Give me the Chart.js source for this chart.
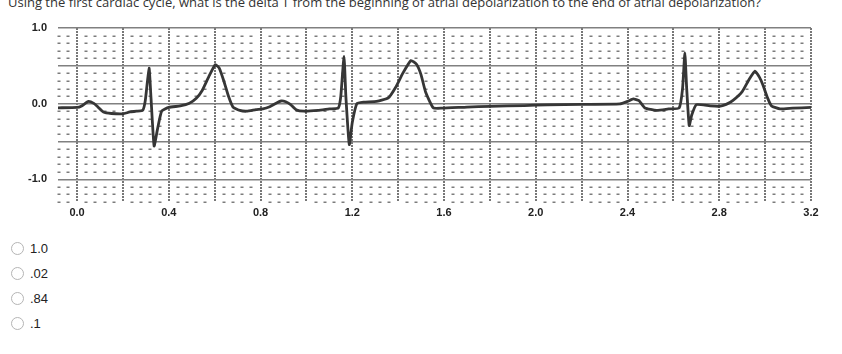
<!DOCTYPE html>
<html>
<head>
<meta charset="utf-8">
<script src="https://cdn.jsdelivr.net/npm/chart.js@4.4.1/dist/chart.umd.min.js"></script>
<style>
  body { margin: 0; width: 842px; height: 354px; background: #fff; overflow: hidden; position: relative; font-family: "Open Sans", Arial, sans-serif; }
  #question { position: absolute; left: 8px; top: -7px; font-size: 13px; color: #333; white-space: nowrap; }
  #chartBox { position: absolute; left: 0; top: 0; width: 842px; height: 230px; }
  .opt { position: absolute; left: 11px; height: 16px; display: flex; align-items: center; font-family: Arial, "Liberation Sans", sans-serif; font-size: 13px; color: #222; }
  .opt span.r { width: 13px; height: 13px; border: 1px solid #b5b5b5; border-radius: 50%; margin-right: 6px; box-sizing: border-box; background: #fff; }
</style>
</head>
<body>
<div id="question">Using the first cardiac cycle, what is the delta T from the beginning of atrial depolarization to the end of atrial depolarization?</div>
<div id="chartBox"><canvas id="ecgChart"></canvas></div>
<div id="options"></div>
<script>
// ECG trace (time in s, amplitude in mV)
const times = [-0.083, 0.0, 0.02, 0.05, 0.075, 0.09, 0.115, 0.15, 0.2, 0.23, 0.26, 0.287, 0.298,
  0.314, 0.322, 0.336, 0.35, 0.369, 0.40, 0.45, 0.49, 0.52, 0.545, 0.575, 0.603, 0.62, 0.64, 0.66,
  0.68, 0.71, 0.74, 0.78, 0.81, 0.84, 0.87, 0.89, 0.91, 0.93, 0.955, 0.99, 1.05, 1.10, 1.139, 1.15,
  1.164, 1.172, 1.187, 1.20, 1.22, 1.25, 1.306, 1.357, 1.39, 1.42, 1.456, 1.48, 1.50, 1.52, 1.553,
  1.59, 1.70, 1.80, 1.95, 2.05, 2.2, 2.367, 2.40, 2.425, 2.45, 2.476, 2.527, 2.58, 2.625, 2.64,
  2.65, 2.658, 2.669, 2.68, 2.70, 2.76, 2.80, 2.83, 2.86, 2.90, 2.93, 2.956, 2.975, 2.99, 3.01,
  3.028, 3.065, 3.12, 3.2];
const voltage = [-0.055, -0.05, -0.03, 0.03, 0.0, -0.04, -0.11, -0.13, -0.135, -0.11, -0.10, -0.085, 0.05,
  0.47, 0.1, -0.56, -0.35, -0.10, -0.05, -0.03, 0.005, 0.07, 0.17, 0.36, 0.515, 0.47, 0.3, 0.1,
  -0.045, -0.09, -0.10, -0.08, -0.07, -0.04, 0.01, 0.035, 0.025, -0.01, -0.08, -0.10, -0.09, -0.07, -0.057, 0.1,
  0.625, 0.1, -0.54, -0.25, 0.0, 0.02, 0.03, 0.075, 0.22, 0.40, 0.57, 0.52, 0.38, 0.15, -0.055,
  -0.06, -0.045, -0.035, -0.025, -0.015, -0.01, -0.004, 0.03, 0.062, 0.04, -0.057, -0.088, -0.07, -0.057, 0.2,
  0.67, 0.2, -0.29, -0.15, -0.013, -0.03, -0.035, -0.01, 0.044, 0.16, 0.32, 0.43, 0.35, 0.25, 0.08,
  -0.03, -0.07, -0.06, -0.05];

// axis ticks: major grid every 0.2 s / 0.5 mV, labels every 0.4 s / 1.0 mV
const xTicks = [0.0, 0.2, 0.4, 0.6, 0.8, 1.0, 1.2, 1.4, 1.6, 1.8, 2.0, 2.2, 2.4, 2.6, 2.8, 3.0, 3.2];
const xTickLabels = ['0.0', '', '0.4', '', '0.8', '', '1.2', '', '1.6', '', '2.0', '', '2.4', '', '2.8', '', '3.2'];
const yTicks = [-1.0, -0.5, 0.0, 0.5, 1.0];
const yTickLabels = ['-1.0', '', '0.0', '', '1.0'];

const answers = ['1.0', '.02', '.84', '.1'];

const optBox = document.getElementById('options');
answers.forEach((a, i) => {
    const d = document.createElement('div');
    d.className = 'opt';
    d.style.top = (240 + i * 25) + 'px';
    d.innerHTML = `<span class="r"></span>${a}`;
    optBox.appendChild(d);
});

// small dots of the ECG paper (every 0.04 s and 0.1 mV)
const paperDots = {
    id: 'paperDots',
    beforeDatasetsDraw(chart) {
        const { ctx, chartArea, scales: { x, y } } = chart;
        ctx.save();
        ctx.fillStyle = '#7c7c7c';
        for (let i = -2; i <= 80; i++) {
            if (i % 5 === 0) continue;
            const px = x.getPixelForValue(i * 0.04);
            if (px < chartArea.left || px > chartArea.right) continue;
            for (let j = -13; j <= 10; j++) {
                if (j % 5 === 0) continue;
                const py = y.getPixelForValue(j * 0.1);
                if (py < chartArea.top || py > chartArea.bottom) continue;
                ctx.fillRect(Math.round(px) - 1.5, Math.round(py) - 0.5, 3, 1.5);
            }
        }
        ctx.restore();
    }
};

new Chart(document.getElementById('ecgChart'), {
    type: 'line',
    data: {
        datasets: [{
            data: times.map((t, i) => ({ x: t, y: voltage[i] })),
            borderColor: '#363636',
            borderWidth: 2.8,
            pointRadius: 0,
            tension: 0.15,
            fill: false
        }]
    },
    options: {
        responsive: true,
        maintainAspectRatio: false,
        animation: false,
        layout: { padding: { top: 28, right: 31, left: 0, bottom: 0 } },
        plugins: { legend: { display: false }, tooltip: { enabled: false } },
        scales: {
            x: {
                type: 'linear',
                min: -0.083,
                max: 3.2,
                afterBuildTicks: (scale) => { scale.ticks = xTicks.map(v => ({ value: v })); },
                afterFit: (scale) => { scale.height = 28; },
                ticks: {
                    autoSkip: false,
                    maxRotation: 0,
                    padding: 4,
                    color: '#222',
                    font: { family: 'Arial, "Liberation Sans", sans-serif', size: 11, weight: 'bold' },
                    callback: (v, i) => xTickLabels[i]
                },
                grid: { color: '#777', lineWidth: 2, drawTicks: false },
                border: { display: false, dash: [2, 1] }
            },
            y: {
                min: -1.3,
                max: 1.0,
                afterBuildTicks: (scale) => { scale.ticks = yTicks.map(v => ({ value: v })); },
                afterFit: (scale) => { scale.width = 58; },
                ticks: {
                    autoSkip: false,
                    padding: 11,
                    color: '#222',
                    font: { family: 'Arial, "Liberation Sans", sans-serif', size: 11, weight: 'bold' },
                    callback: (v, i) => yTickLabels[i]
                },
                grid: { color: '#808080', lineWidth: 1.6, drawTicks: false },
                border: { display: false }
            }
        }
    },
    plugins: [paperDots]
});
</script>
</body>
</html>
